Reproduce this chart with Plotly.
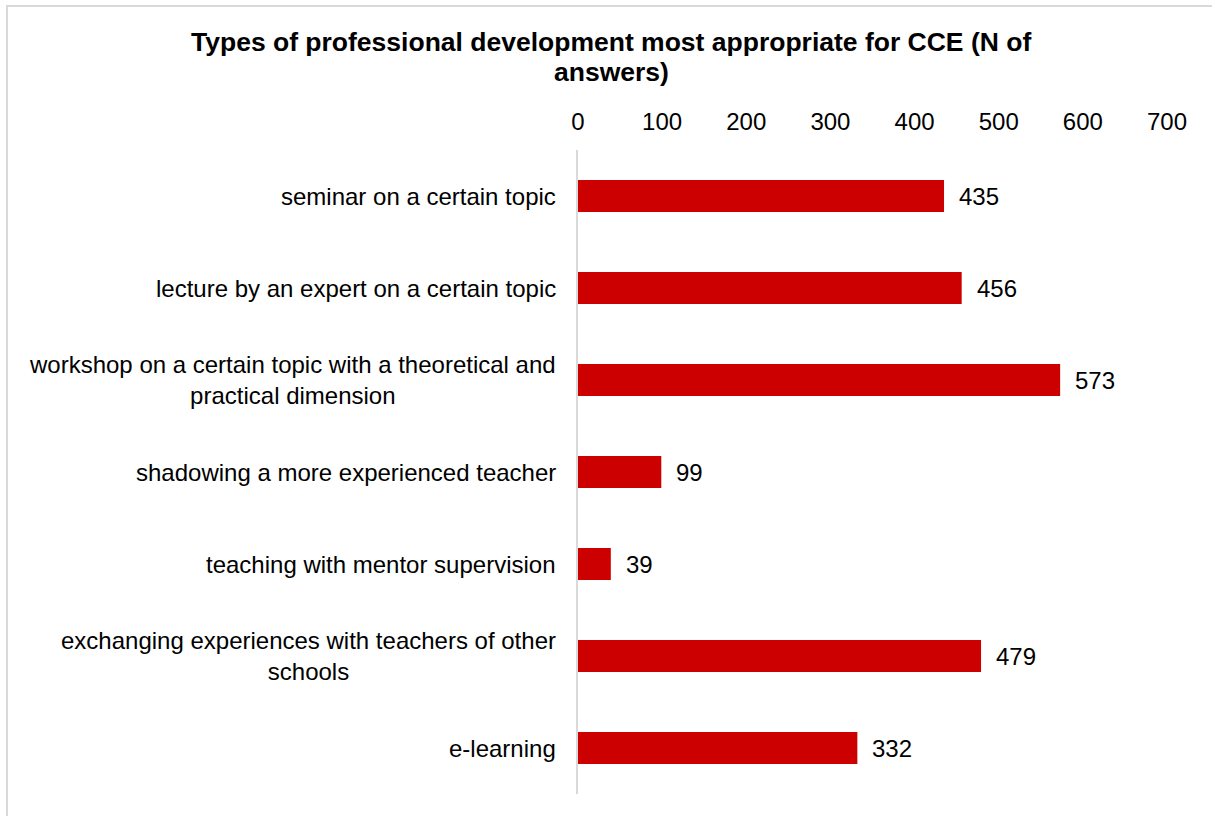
import plotly.graph_objects as go

categories = [
    "seminar on a certain topic",
    "lecture by an expert on a certain topic",
    "workshop on a certain topic with a theoretical and<br>practical dimension",
    "shadowing a more experienced teacher",
    "teaching with mentor supervision",
    "exchanging experiences with teachers of other<br>schools",
    "e-learning",
]
answers = [435, 456, 573, 99, 39, 479, 332]
x_ticks = [0, 100, 200, 300, 400, 500, 600, 700]
title_lines = [
    "Types of professional development most appropriate for CCE (N of",
    "answers)",
]

FONT = "Liberation Sans, Arial, sans-serif"
RED = "#cc0000"
W, H = 1212, 816
M_L, M_R, M_T, M_B = 578, 45, 150, 22
PW, PH = W - M_L - M_R, H - M_T - M_B


def px_to_paper_x(px):
    return (px - M_L) / PW


def px_to_paper_y(py):
    return (H - M_B - py) / PH


fig = go.Figure(
    go.Bar(
        x=answers,
        y=categories,
        orientation="h",
        marker=dict(color=RED, line=dict(width=0)),
        width=0.35,
        hoverinfo="x+y",
    )
)

# value labels to the right of each bar
for cat, val in zip(categories, answers):
    fig.add_annotation(
        x=val, y=cat, xref="x", yref="y",
        text=str(val), showarrow=False,
        xanchor="left", xshift=13,
        font=dict(family=FONT, size=24, color="#000000"),
    )

# category labels, centred line-by-line
for cat in categories:
    fig.add_annotation(
        x=0, y=cat, xref="paper", yref="y",
        text=cat, showarrow=False,
        xanchor="right", xshift=-20, align="center",
        font=dict(family=FONT, size=24, color="#000000"),
    )

# two-line bold title with tighter line spacing
for i, line in enumerate(title_lines):
    fig.add_annotation(
        x=px_to_paper_x(611), xref="paper", xanchor="center",
        y=px_to_paper_y(42 + 30 * i), yref="paper", yanchor="middle",
        text=f"<b>{line}</b>", showarrow=False,
        font=dict(family=FONT, size=26.5, color="#000000"),
    )

# outer chart border
fig.add_shape(
    type="rect", xref="paper", yref="paper",
    x0=px_to_paper_x(7), x1=px_to_paper_x(1230),
    y0=px_to_paper_y(830), y1=px_to_paper_y(6),
    line=dict(color="#d9d9d9", width=2), layer="below",
)

fig.update_layout(
    width=W,
    height=H,
    margin=dict(l=M_L, r=M_R, t=M_T, b=M_B),
    paper_bgcolor="white",
    plot_bgcolor="white",
    showlegend=False,
    xaxis=dict(
        side="top",
        range=[0, 700],
        tickvals=x_ticks,
        ticktext=[str(t) for t in x_ticks],
        showgrid=False,
        zeroline=False,
        showline=False,
        ticks="",
        ticklabelstandoff=14,
        tickfont=dict(family=FONT, size=24, color="#000000"),
    ),
    yaxis=dict(
        autorange="reversed",
        showticklabels=False,
        showgrid=False,
        zeroline=False,
        showline=True,
        linecolor="#d9d9d9",
        linewidth=2,
        ticks="",
    ),
    font=dict(family=FONT, size=24, color="#000000"),
)

fig.write_html("out.html")
